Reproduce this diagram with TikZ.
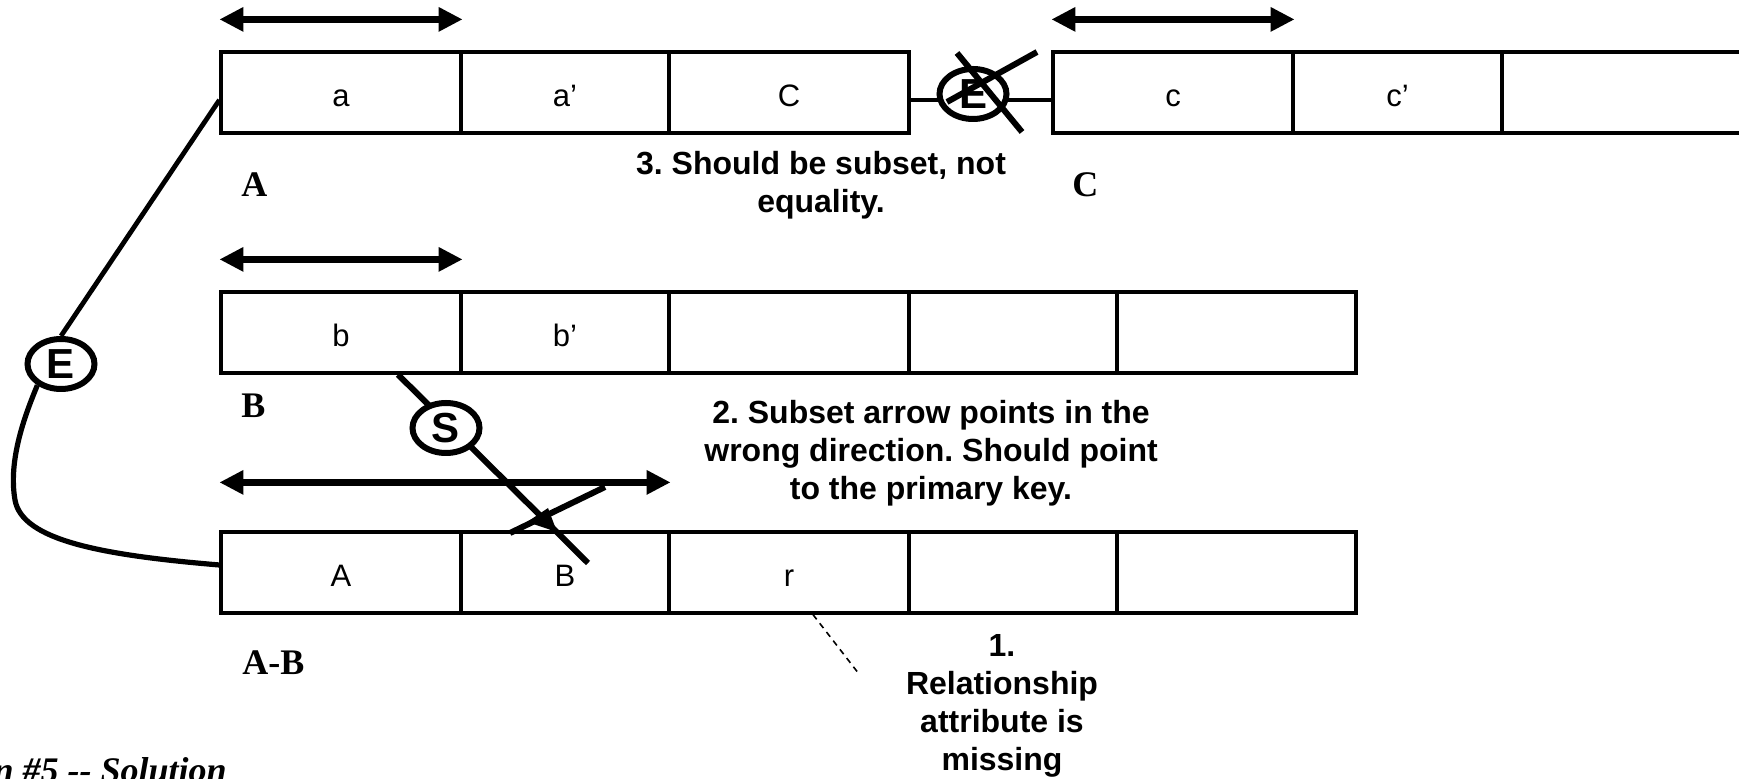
\documentclass[tikz,border=0pt]{standalone}
\usepackage{fontspec}
\setmainfont{Liberation Serif}
\newfontfamily\arial{Liberation Sans}
\usetikzlibrary{arrows.meta,shapes.geometric}
\frenchspacing
\begin{document}
\begin{tikzpicture}[x=0.5pt,y=-0.5pt,
  cell/.style={draw, line width=1.6pt, inner sep=0pt, minimum height=40.5pt,
    text height=14pt, text depth=0pt, font=\arial\fontsize{15.5}{17}\selectfont},
  lbl/.style={font=\bfseries\fontsize{18}{20}\selectfont, anchor=base west, inner sep=0pt},
  note/.style={font=\arial\bfseries\fontsize{16}{19}\selectfont, align=center, inner sep=0pt, anchor=north},
  rel/.style={draw, ellipse, line width=3pt, fill=white, minimum width=33.5pt, minimum height=25pt,
    inner sep=0pt, font=\arial\bfseries\fontsize{21}{21}\selectfont},
  dbl/.style={line width=3.5pt, >={Triangle[length=12pt,width=11.5pt]}, <->},
  conn/.style={line width=2.4pt},
  fix/.style={line width=3pt},
]
\useasboundingbox (0,0) rectangle (1739,779);

% table A
\node[cell, minimum width=120pt] (a1) at (341,92.5) {a};
\node[cell, minimum width=104pt] (a2) at (565,92.5) {a’};
\node[cell, minimum width=120pt] (a3) at (789,92.5) {C};
% table C
\node[cell, minimum width=120pt] (c1) at (1173,92.5) {c};
\node[cell, minimum width=104.5pt] (c2) at (1397.5,92.5) {c’};
\node[cell, minimum width=129pt] (c3) at (1631,92.5) {};
% table B
\node[cell, minimum width=120pt] (b1) at (341,332.5) {b};
\node[cell, minimum width=104pt] (b2) at (565,332.5) {b’};
\node[cell, minimum width=120pt] (b3) at (789,332.5) {};
\node[cell, minimum width=104pt] (b4) at (1013,332.5) {};
\node[cell, minimum width=119.5pt] (b5) at (1236.5,332.5) {};
% table A-B
\node[cell, minimum width=120pt] (r1) at (341,572.5) {A};
\node[cell, minimum width=104pt] (r2) at (565,572.5) {B};
\node[cell, minimum width=120pt] (r3) at (789,572.5) {r};
\node[cell, minimum width=104pt] (r4) at (1013,572.5) {};
\node[cell, minimum width=119.5pt] (r5) at (1236.5,572.5) {};

% key arrows
\draw[dbl] ([yshift=15.5pt]a1.north west) -- ([yshift=15.5pt]a1.north east);
\draw[dbl] ([yshift=15.5pt]c1.north west) -- ([yshift=15.5pt]c1.north east);
\draw[dbl] ([yshift=15.5pt]b1.north west) -- ([yshift=15.5pt]b1.north east);
\draw[dbl] ([yshift=24pt]r1.north west) -- ([yshift=24pt]r2.north east);

% table labels
\node[lbl] (lA) at (241,197) {A};
\node[lbl] (lB) at (241,418) {B};
\node[lbl] (lC) at (1072,197) {C};
\node[lbl] (lAB) at (242,675) {A-B};

% crossed E between A and C
\draw[conn] ([yshift=-3.75pt]a3.east) -- ([yshift=-3.75pt]c1.west);
\node[rel] (Ex) at (973,94) {E};
\draw[fix] ([shift={(-16,-41)}]Ex.center) -- ([shift={(49,38)}]Ex.center);
\draw[fix] ([shift={(64,-42)}]Ex.center) -- ([shift={(-26,8)}]Ex.center);

% E between A and A-B
\node[rel] (El) at (61,364) {E};
\draw[conn] ([yshift=-3.75pt]a1.west) -- (El.north);
\draw[line width=2.6pt] (El.222) .. controls (25,415) and (8,460) .. (15,500)
  .. controls (22,540) and (100,555) .. ([yshift=3.75pt]r1.west);

% S subset line from B to A-B
\coordinate (sEnd) at (588,563);
\draw[fix] ([xshift=28.5pt]b1.south) -- (sEnd);
\node[rel] (Sn) at (446,428) {S};
\coordinate (xa) at (605,487);
\coordinate (xb) at (510,533);
\draw[fix] (xa) -- (xb);
\draw[line width=1.8pt] (512,486) -- (556,531);
\fill (527,522) -- (557,532) -- (548,508) -- cycle;

% notes
\node[note] (n3) at (821,151) {3. Should be subset, not\\equality.};
\node[note] (n2) at (931,400) {2. Subset arrow points in the\\wrong direction. Should point\\to the primary key.};
\node[note] (n1) at (1002,634) {1.\\Relationship\\attribute is\\missing};
\coordinate (n1tip) at (859,674);
\draw[line width=0.8pt, dash pattern=on 3pt off 2.5pt] ([xshift=12pt]r3.south) -- (n1tip);

% caption (cut off by the page edge)
\node[font=\bfseries\itshape\fontsize{18}{20}\selectfont, anchor=base east, inner sep=0pt] (cap) at (227,782) {n \#5 -{}- Solution};
\end{tikzpicture}
\end{document}
